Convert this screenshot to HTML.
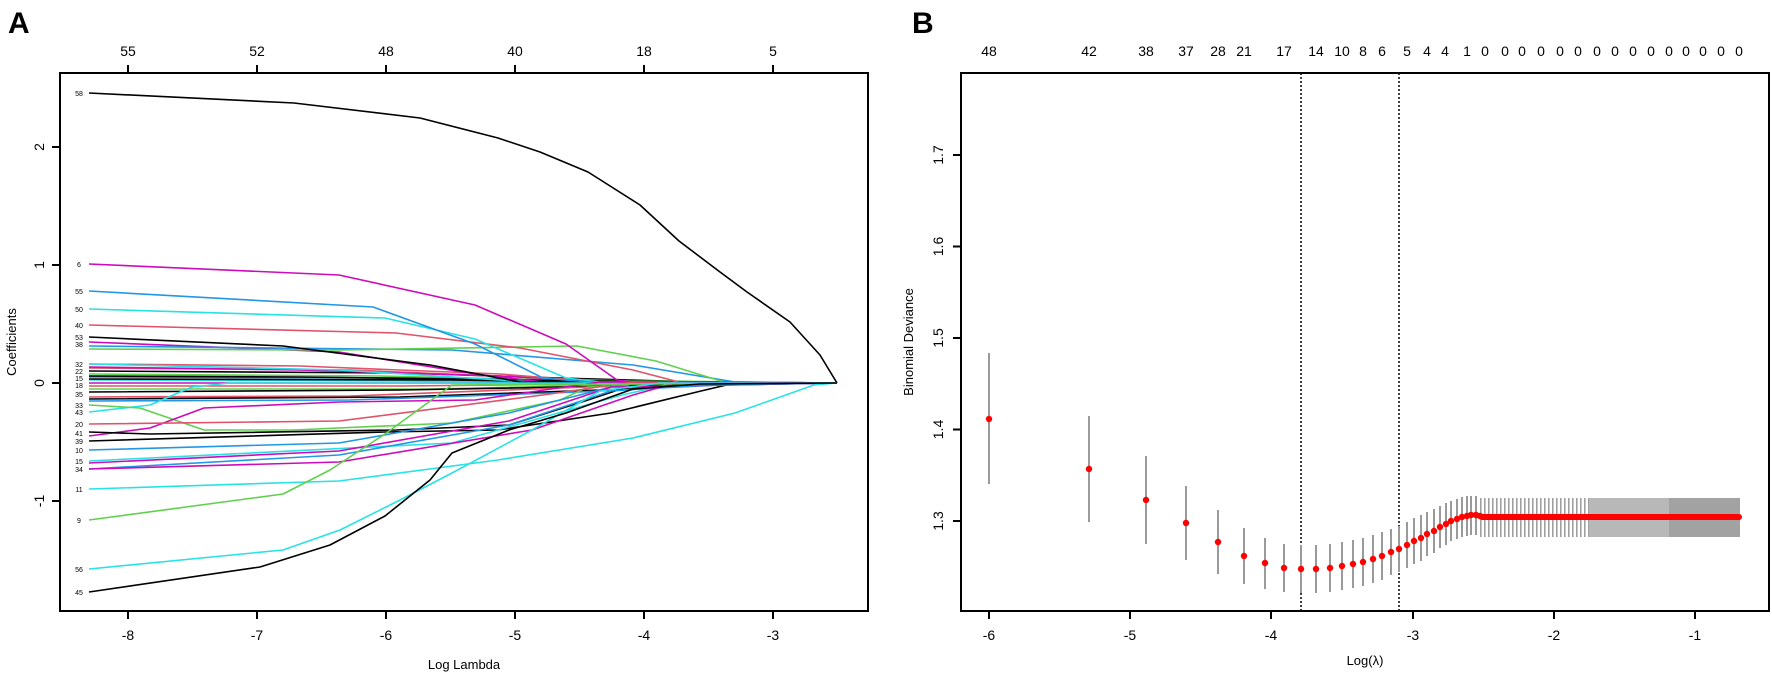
<!DOCTYPE html>
<html><head><meta charset="utf-8"><style>
html,body{margin:0;padding:0;background:#fff}
svg{display:block}
text{font-family:"Liberation Sans",Arial,sans-serif;fill:#000}
</style></head><body>
<svg width="1772" height="673" viewBox="0 0 1772 673" xmlns="http://www.w3.org/2000/svg">
<rect width="1772" height="673" fill="#fff"/>
<!-- Panel A -->
<text x="8" y="33" font-size="30" font-weight="bold">A</text>
<g fill="none" stroke-width="1.6" stroke-linejoin="round">
<!-- near zero cluster -->
<polyline stroke="#000" points="89,371 400,373 560,378 700,382 837,383"/>
<polyline stroke="#df536b" points="89,368 350,370 520,377 640,382 837,383"/>
<polyline stroke="#cd0bbc" points="89,367 300,370 500,376 600,382 837,383"/>
<polyline stroke="#61d04f" points="89,374 380,376 560,380 837,383"/>
<polyline stroke="#2297e6" points="89,377 450,378 620,382 837,383"/>
<polyline stroke="#28e2e5" points="89,380 400,381 600,383 837,383"/>
<polyline stroke="#000" points="89,379 450,380 650,383 837,383"/>
<polyline stroke="#df536b" points="89,386 400,386 600,384 837,383"/>
<polyline stroke="#61d04f" points="89,389 430,389 610,385 837,383"/>
<polyline stroke="#000" points="89,392 400,390 620,386 837,383"/>
<polyline stroke="#cd0bbc" points="89,383 400,383 837,383"/>
<polyline stroke="#df536b" points="89,397 350,396 560,388 700,383 837,383"/>
<polyline stroke="#000" points="89,399 400,397 600,390 740,384 837,383"/>
<polyline stroke="#2297e6" points="89,401 350,400 580,392 720,385 837,383"/>
<polyline stroke="#df536b" points="89,364 300,366 500,374 600,382 837,383"/>
<polyline stroke="#000" points="89,376 300,377 600,381 837,383"/>
<!-- larger curves -->
<polyline stroke="#28e2e5" points="89,364 339,370 532,382 837,383"/>
<polyline stroke="#cd0bbc" points="89,342 339,352 475,374 543,382 837,383"/>
<polyline stroke="#2297e6" points="89,346 452,350 633,365 735,382 837,383"/>
<polyline stroke="#61d04f" points="89,349 339,350 577,346 656,361 724,382 837,383"/>
<polyline stroke="#000" points="89,337 283,346 430,365 520,382 837,383"/>
<polyline stroke="#df536b" points="89,325 396,333 520,348 633,370 679,382 837,383"/>
<polyline stroke="#28e2e5" points="89,309 385,318 475,339 566,378 600,382 837,383"/>
<polyline stroke="#2297e6" points="89,291 373,307 475,344 543,378 588,382 837,383"/>
<polyline stroke="#cd0bbc" points="89,264 339,275 475,305 566,344 617,380 640,383 837,383"/>
<polyline stroke="#000" points="89,93 294,103 420,118 498,138 540,152 588,172 640,205 679,241 720,272 747,292 790,322 820,355 837,383"/>
<polyline stroke="#28e2e5" points="89,412 150,405 192,387 230,383 837,383"/>
<polyline stroke="#61d04f" points="89,405 140,408 204,430 294,430 452,423 560,400 588,387 837,383"/>
<polyline stroke="#cd0bbc" points="89,436 150,428 204,408 339,402 475,400 600,382 837,383"/>
<polyline stroke="#df536b" points="89,424 339,421 543,395 633,382 837,383"/>
<polyline stroke="#000" points="89,432 150,434 396,430 509,425 588,400 633,385 837,383"/>
<polyline stroke="#000" points="89,441 385,432 498,430 611,413 701,391 735,383 837,383"/>
<polyline stroke="#2297e6" points="89,450 339,443 509,413 611,387 837,383"/>
<polyline stroke="#28e2e5" points="89,461 452,443 622,395 679,382 837,383"/>
<polyline stroke="#cd0bbc" points="89,463 339,451 509,421 611,387 837,383"/>
<polyline stroke="#2297e6" points="89,469 339,455 509,425 611,391 700,385 837,383"/>
<polyline stroke="#cd0bbc" points="89,469 339,462 532,430 633,395 679,382 837,383"/>
<polyline stroke="#28e2e5" points="89,489 339,481 498,460 633,438 735,413 814,385 837,383"/>
<polyline stroke="#61d04f" points="89,520 283,494 330,470 385,434 452,385 837,383"/>
<polyline stroke="#28e2e5" points="89,569 283,550 340,530 400,500 452,473 532,430 600,391 660,383 837,383"/>
<polyline stroke="#000" points="89,592 260,567 330,545 385,516 430,480 452,453 509,430 566,413 633,389 700,384 837,383"/>
</g>
<g font-size="7" text-anchor="middle">
<text x="79" y="96">58</text><text x="79" y="267">6</text><text x="79" y="294">55</text><text x="79" y="312">50</text><text x="79" y="328">40</text><text x="79" y="340">53</text><text x="79" y="347">38</text><text x="79" y="367">32</text><text x="79" y="374">22</text><text x="79" y="381">15</text><text x="79" y="388">18</text><text x="79" y="397">35</text><text x="79" y="408">33</text><text x="79" y="415">43</text><text x="79" y="427">20</text><text x="79" y="436">41</text><text x="79" y="444">39</text><text x="79" y="453">10</text><text x="79" y="464">15</text><text x="79" y="472">34</text><text x="79" y="492">11</text><text x="79" y="523">9</text><text x="79" y="572">56</text><text x="79" y="595">45</text>
</g>
<rect x="60" y="73" width="808" height="538" fill="none" stroke="#000" stroke-width="2"/>
<g stroke="#000" stroke-width="2">
<line x1="128" y1="611" x2="128" y2="619"/><line x1="257" y1="611" x2="257" y2="619"/><line x1="386" y1="611" x2="386" y2="619"/><line x1="515" y1="611" x2="515" y2="619"/><line x1="644" y1="611" x2="644" y2="619"/><line x1="773" y1="611" x2="773" y2="619"/>
<line x1="128" y1="73" x2="128" y2="65"/><line x1="257" y1="73" x2="257" y2="65"/><line x1="386" y1="73" x2="386" y2="65"/><line x1="515" y1="73" x2="515" y2="65"/><line x1="644" y1="73" x2="644" y2="65"/><line x1="773" y1="73" x2="773" y2="65"/>
<line x1="60" y1="147" x2="52" y2="147"/><line x1="60" y1="265" x2="52" y2="265"/><line x1="60" y1="383" x2="52" y2="383"/><line x1="60" y1="501" x2="52" y2="501"/>
</g>
<g font-size="14" text-anchor="middle">
<text x="128" y="640">-8</text><text x="257" y="640">-7</text><text x="386" y="640">-6</text><text x="515" y="640">-5</text><text x="644" y="640">-4</text><text x="773" y="640">-3</text>
<text x="128" y="56">55</text><text x="257" y="56">52</text><text x="386" y="56">48</text><text x="515" y="56">40</text><text x="644" y="56">18</text><text x="773" y="56">5</text>
<text transform="translate(44,147) rotate(-90)">2</text><text transform="translate(44,265) rotate(-90)">1</text><text transform="translate(44,383) rotate(-90)">0</text><text transform="translate(44,501) rotate(-90)">-1</text>
<text x="464" y="669" font-size="13">Log Lambda</text>
<text transform="translate(16,342) rotate(-90)" font-size="13">Coefficients</text>
</g>

<!-- Panel B -->
<text x="912" y="33" font-size="30" font-weight="bold">B</text>
<line x1="1301" y1="73" x2="1301" y2="611" stroke="#000" stroke-width="1.5" stroke-dasharray="2,2"/>
<line x1="1399" y1="73" x2="1399" y2="611" stroke="#000" stroke-width="1.5" stroke-dasharray="2,2"/>
<g stroke="#9a9a9a" stroke-width="2">
<line x1="989" y1="353" x2="989" y2="484"/><line x1="1089" y1="416" x2="1089" y2="522"/><line x1="1146" y1="456" x2="1146" y2="544"/><line x1="1186" y1="486" x2="1186" y2="560"/><line x1="1218" y1="510" x2="1218" y2="574"/><line x1="1244" y1="528" x2="1244" y2="584"/><line x1="1265" y1="538" x2="1265" y2="589"/><line x1="1284" y1="544" x2="1284" y2="592"/><line x1="1301" y1="545" x2="1301" y2="593"/><line x1="1316" y1="545" x2="1316" y2="593"/><line x1="1330" y1="544" x2="1330" y2="592"/><line x1="1342" y1="542" x2="1342" y2="590"/><line x1="1353" y1="540" x2="1353" y2="588"/><line x1="1363" y1="538" x2="1363" y2="586"/><line x1="1373" y1="535" x2="1373" y2="583"/><line x1="1382" y1="532" x2="1382" y2="580"/><line x1="1391" y1="529" x2="1391" y2="575"/><line x1="1399" y1="526" x2="1399" y2="572"/><line x1="1407" y1="522" x2="1407" y2="568"/><line x1="1414" y1="518" x2="1414" y2="564"/><line x1="1421" y1="515" x2="1421" y2="561"/><line x1="1427" y1="512" x2="1427" y2="556"/><line x1="1434" y1="509" x2="1434" y2="553"/><line x1="1440" y1="506" x2="1440" y2="548"/><line x1="1446" y1="503" x2="1446" y2="545"/><line x1="1451" y1="501" x2="1451" y2="541"/><line x1="1457" y1="499" x2="1457" y2="539"/><line x1="1462" y1="497" x2="1462" y2="537"/><line x1="1467" y1="496" x2="1467" y2="536"/><line x1="1471" y1="496" x2="1471" y2="535"/><line x1="1476" y1="496" x2="1476" y2="535"/>
</g>
<defs><pattern id="vb" width="4" height="10" patternUnits="userSpaceOnUse"><rect width="4" height="10" fill="#fff"/><rect width="1.6" height="10" fill="#a0a0a0"/></pattern></defs>
<rect x="1479" y="498" width="110" height="39" fill="url(#vb)"/>
<rect x="1589" y="498" width="80" height="39" fill="#b8b8b8"/>
<rect x="1669" y="498" width="71" height="39" fill="#a2a2a2"/>
<g fill="#ff0000">
<circle cx="989" cy="419" r="3.2"/><circle cx="1089" cy="469" r="3.2"/><circle cx="1146" cy="500" r="3.2"/><circle cx="1186" cy="523" r="3.2"/><circle cx="1218" cy="542" r="3.2"/><circle cx="1244" cy="556" r="3.2"/><circle cx="1265" cy="563" r="3.2"/><circle cx="1284" cy="568" r="3.2"/><circle cx="1301" cy="569" r="3.2"/><circle cx="1316" cy="569" r="3.2"/><circle cx="1330" cy="568" r="3.2"/><circle cx="1342" cy="566" r="3.2"/><circle cx="1353" cy="564" r="3.2"/><circle cx="1363" cy="562" r="3.2"/><circle cx="1373" cy="559" r="3.2"/><circle cx="1382" cy="556" r="3.2"/><circle cx="1391" cy="552" r="3.2"/><circle cx="1399" cy="549" r="3.2"/><circle cx="1407" cy="545" r="3.2"/><circle cx="1414" cy="541" r="3.2"/><circle cx="1421" cy="538" r="3.2"/><circle cx="1427" cy="534" r="3.2"/><circle cx="1434" cy="531" r="3.2"/><circle cx="1440" cy="527" r="3.2"/><circle cx="1446" cy="524" r="3.2"/><circle cx="1451" cy="521" r="3.2"/><circle cx="1457" cy="519" r="3.2"/><circle cx="1462" cy="517" r="3.2"/><circle cx="1467" cy="516" r="3.2"/><circle cx="1471" cy="515" r="3.2"/><circle cx="1476" cy="515" r="3.2"/><circle cx="1480" cy="516" r="3.2"/>
</g>
<line x1="1482" y1="517" x2="1739" y2="517" stroke="#ff0000" stroke-width="6" stroke-linecap="round"/>
<rect x="961" y="73" width="808" height="538" fill="none" stroke="#000" stroke-width="2"/>
<g stroke="#000" stroke-width="2">
<line x1="989" y1="611" x2="989" y2="619"/><line x1="1130" y1="611" x2="1130" y2="619"/><line x1="1271" y1="611" x2="1271" y2="619"/><line x1="1413" y1="611" x2="1413" y2="619"/><line x1="1554" y1="611" x2="1554" y2="619"/><line x1="1695" y1="611" x2="1695" y2="619"/>
<line x1="961" y1="155" x2="953" y2="155"/><line x1="961" y1="246.5" x2="953" y2="246.5"/><line x1="961" y1="338" x2="953" y2="338"/><line x1="961" y1="429.5" x2="953" y2="429.5"/><line x1="961" y1="521" x2="953" y2="521"/>
</g>
<g font-size="14" text-anchor="middle">
<text x="989" y="640">-6</text><text x="1130" y="640">-5</text><text x="1271" y="640">-4</text><text x="1413" y="640">-3</text><text x="1554" y="640">-2</text><text x="1695" y="640">-1</text>
<text transform="translate(943,155) rotate(-90)">1.7</text><text transform="translate(943,246.5) rotate(-90)">1.6</text><text transform="translate(943,338) rotate(-90)">1.5</text><text transform="translate(943,429.5) rotate(-90)">1.4</text><text transform="translate(943,521) rotate(-90)">1.3</text>
<text transform="translate(913,342) rotate(-90)" font-size="13">Binomial Deviance</text>
<text x="1365" y="665" font-size="13">Log(λ)</text>
<text x="989" y="56">48</text><text x="1089" y="56">42</text><text x="1146" y="56">38</text><text x="1186" y="56">37</text><text x="1218" y="56">28</text><text x="1244" y="56">21</text><text x="1284" y="56">17</text><text x="1316" y="56">14</text><text x="1342" y="56">10</text><text x="1363" y="56">8</text><text x="1382" y="56">6</text><text x="1407" y="56">5</text><text x="1427" y="56">4</text><text x="1445" y="56">4</text><text x="1467" y="56">1</text><text x="1485" y="56">0</text><text x="1505" y="56">0</text><text x="1522" y="56">0</text><text x="1541" y="56">0</text><text x="1560" y="56">0</text><text x="1578" y="56">0</text><text x="1597" y="56">0</text><text x="1615" y="56">0</text><text x="1633" y="56">0</text><text x="1651" y="56">0</text><text x="1669" y="56">0</text><text x="1686" y="56">0</text><text x="1703" y="56">0</text><text x="1721" y="56">0</text><text x="1739" y="56">0</text>
</g>
</svg>
</body></html>
